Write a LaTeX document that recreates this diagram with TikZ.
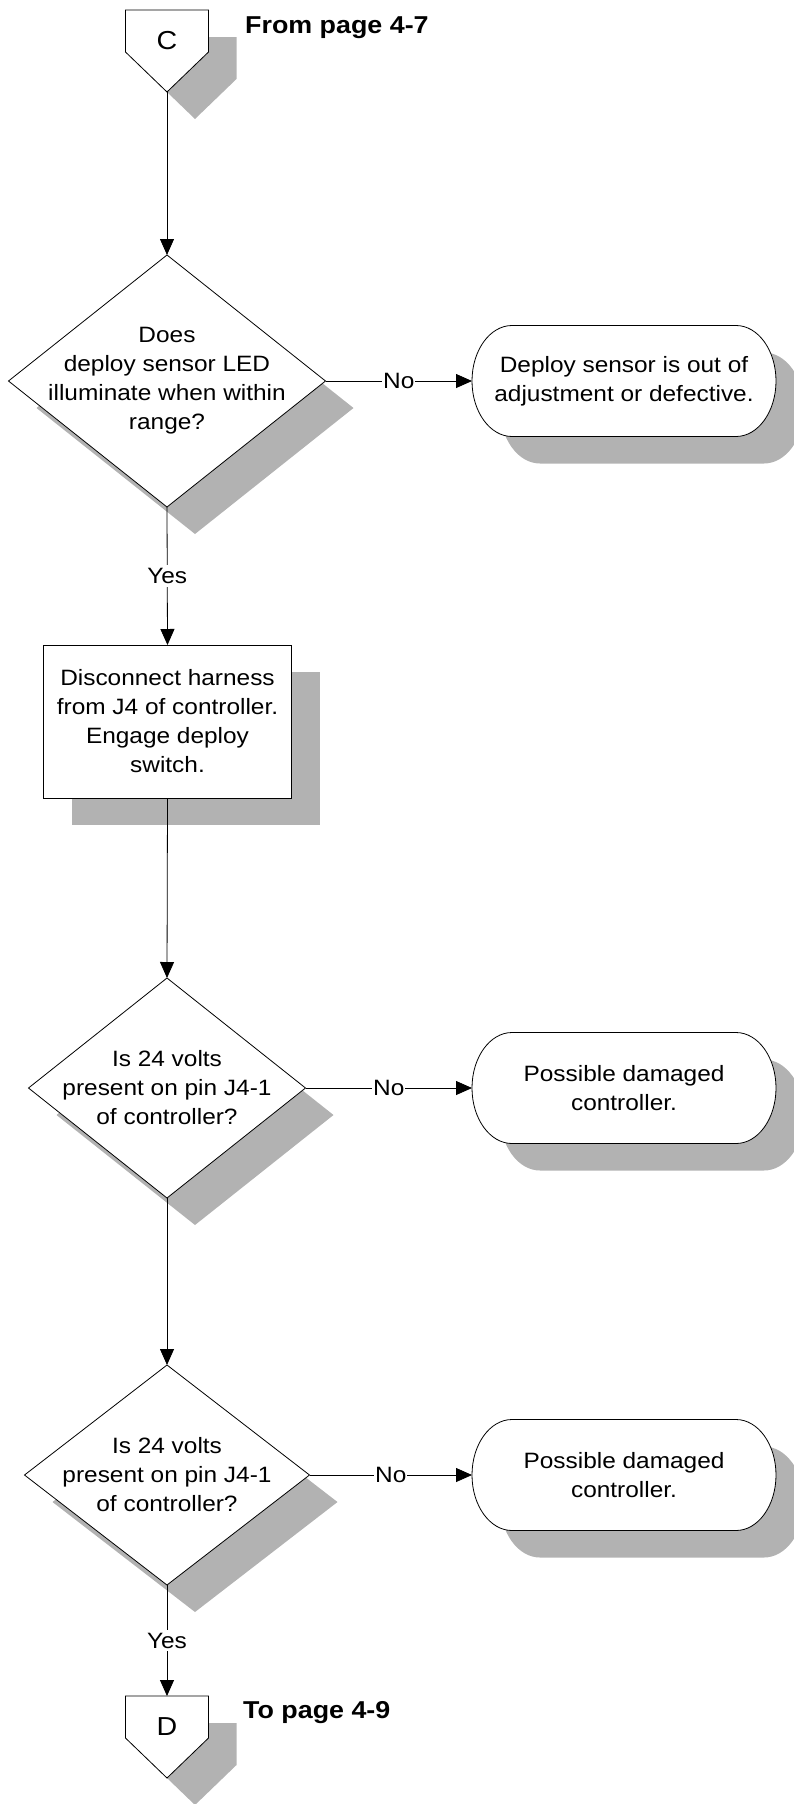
\documentclass[tikz,border=0pt]{standalone}
\usepackage{fontspec}
\setmainfont{Liberation Sans}[FakeStretch=1.1]
\usetikzlibrary{shapes.geometric, arrows.meta, shadows}
\definecolor{shadowgray}{RGB}{178,178,178}

\tikzset{
  outline/.style={draw=black, fill=white, line width=0.8pt},
  shade3d/.style={drop shadow={shadow xshift=28pt, shadow yshift=-27pt, fill=shadowgray, opacity=1}},
  question/.style={diamond, outline, shade3d, inner sep=0pt, outer sep=0pt},
  action/.style={rectangle, outline, shade3d, inner sep=0pt, outer sep=0pt,
    minimum width=248pt, minimum height=153pt},
  body/.style={align=center, inner sep=0pt, font=\fontsize{22.2}{29}\selectfont},
  pilltext/.style={body, minimum width=304pt, minimum height=111pt, outer sep=0pt},
  letter/.style={inner sep=0pt, font=\fontsize{26}{30}\selectfont},
  heading/.style={inner sep=0pt, font=\fontsize{24.4}{29}\selectfont\bfseries},
  lbl/.style={fill=white, inner xsep=1pt, inner ysep=3pt, font=\fontsize{22.2}{29}\selectfont},
  flow/.style={draw, line width=0.8pt, -{Triangle[length=16pt, width=14pt]}},
}

% terminal (pill with elliptic ends): name, centre x, centre y, text
\newcommand\pill[4]{%
  \begin{scope}[shift={(28,27)}]
    \fill[shadowgray] (#2-112,#3-55.5) -- (#2+112,#3-55.5)
      arc[start angle=90, end angle=-90, x radius=40pt, y radius=55.5pt]
      -- (#2-112,#3+55.5)
      arc[start angle=270, end angle=90, x radius=40pt, y radius=55.5pt] -- cycle;
  \end{scope}
  \path[outline] (#2-112,#3-55.5) -- (#2+112,#3-55.5)
      arc[start angle=90, end angle=-90, x radius=40pt, y radius=55.5pt]
      -- (#2-112,#3+55.5)
      arc[start angle=270, end angle=90, x radius=40pt, y radius=55.5pt] -- cycle;
  \node[pilltext] (#1) at (#2,#3) {#4};
}

% off-page connector: name, centre x, top y, letter
\newcommand\offpage[4]{%
  \begin{scope}[shift={(28,27)}]
    \fill[shadowgray] (#2-41.5,#3) -- (#2+41.5,#3) -- (#2+41.5,#3+42)
      -- (#2,#3+82) -- (#2-41.5,#3+42) -- cycle;
  \end{scope}
  \path[outline] (#2-41.5,#3) -- (#2+41.5,#3) -- (#2+41.5,#3+42)
      -- (#2,#3+82) -- (#2-41.5,#3+42) -- cycle;
  \node[letter] (#1) at (#2,#3+30.5) {#4};
}

\begin{document}
\begin{tikzpicture}[x=1pt, y=-1pt]
  \useasboundingbox (0,0) rectangle (794,1804);

  % entry connector
  \offpage{c}{167}{10}{C}
  \coordinate (ctip) at (167,92);
  \node[heading, anchor=base west] (fromtxt) at (245,33) {From page 4-7};

  % first check
  \node[question, minimum width=317pt, minimum height=252pt] (d1) at (167,381) {};
  \node[body] (d1t) at (d1.center) {Does\\deploy sensor LED\\illuminate when within\\range?};
  \pill{t1}{624}{381}{Deploy sensor is out of\\adjustment or defective.}

  % harness step
  \node[action] (b1) at (167.5,721.5) {};
  \node[body] (b1t) at (b1.center) {Disconnect harness\\from J4 of controller.\\Engage deploy\\switch.};

  % voltage checks
  \node[question, minimum width=277pt, minimum height=220pt] (d2) at (167,1088) {};
  \node[body] (d2t) at (d2.center) {Is 24 volts\\present on pin J4-1\\of controller?};
  \pill{t2}{624}{1088}{Possible damaged\\controller.}

  \node[question, minimum width=285pt, minimum height=220pt] (d3) at (167,1475) {};
  \node[body] (d3t) at (d3.center) {Is 24 volts\\present on pin J4-1\\of controller?};
  \pill{t3}{624}{1475}{Possible damaged\\controller.}

  % exit connector
  \offpage{d}{167}{1696}{D}
  \coordinate (dtop) at (167,1696);
  \node[heading, anchor=base west] (totxt) at (243,1718) {To page 4-9};

  % connectors
  \draw[flow] (ctip) -- (d1.north);
  \draw[flow] (d1.east) -- node[lbl] (no1) {No} (t1.west);
  \draw[flow] (d1.south) -- node[lbl] (yes1) {Yes} (b1.north);
  \draw[flow] (b1.south) -- (d2.north);
  \draw[flow] (d2.east) -- node[lbl] (no2) {No} (t2.west);
  \draw[flow] (d2.south) -- (d3.north);
  \draw[flow] (d3.east) -- node[lbl] (no3) {No} (t3.west);
  \draw[flow] (d3.south) -- node[lbl] (yes3) {Yes} (dtop);
\end{tikzpicture}
\end{document}
